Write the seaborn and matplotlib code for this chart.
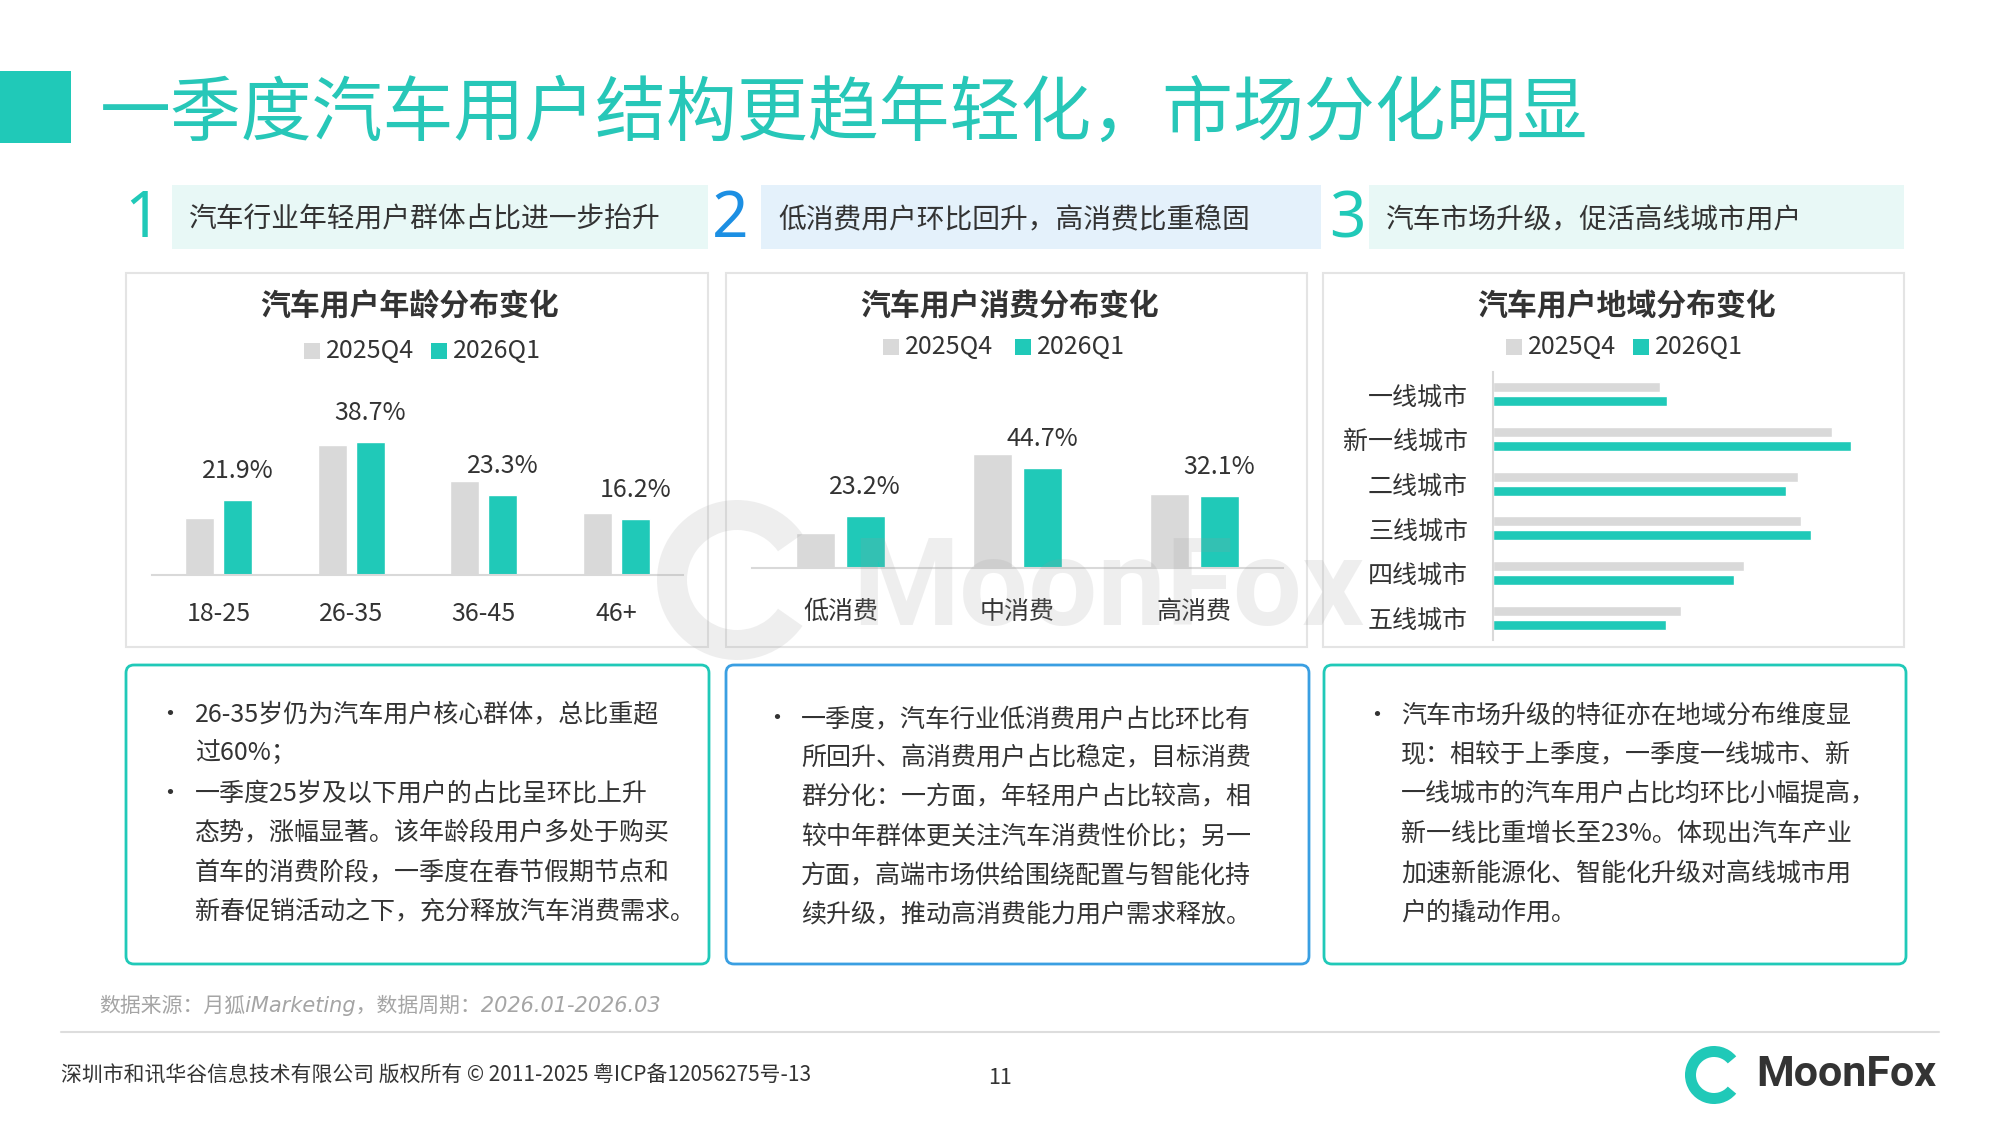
import numpy as np
import pandas as pd
import matplotlib
matplotlib.use('Agg')
import matplotlib.pyplot as plt
import seaborn as sns
from matplotlib.patches import Rectangle, FancyBboxPatch, Wedge

# ---------------- data ----------------
series = ['2025Q4', '2026Q1']

age_cats = ['18-25', '26-35', '36-45', '46+']
age_q4 = [16.6, 37.8, 27.2, 18.0]
age_q1 = [21.9, 38.7, 23.3, 16.2]

spend_cats = ['低消费', '中消费', '高消费']
spend_q4 = [15.7, 51.0, 33.2]
spend_q1 = [23.2, 44.7, 32.1]

city_cats = ['一线城市', '新一线城市', '二线城市', '三线城市', '四线城市', '五线城市']
city_q4 = [10.7, 21.8, 19.6, 19.8, 16.1, 12.1]
city_q1 = [11.2, 23.0, 18.8, 20.4, 15.5, 11.1]

page_title = '一季度汽车用户结构更趋年轻化，市场分化明显'
section_nums = ['1', '2', '3']
section_heads = ['汽车行业年轻用户群体占比进一步抬升',
                 '低消费用户环比回升，高消费比重稳固',
                 '汽车市场升级，促活高线城市用户']
chart_titles = ['汽车用户年龄分布变化', '汽车用户消费分布变化', '汽车用户地域分布变化']

notes1 = ['• 26-35岁仍为汽车用户核心群体，总比重超',
          '过60%；',
          '• 一季度25岁及以下用户的占比呈环比上升',
          '态势，涨幅显著。该年龄段用户多处于购买',
          '首车的消费阶段，一季度在春节假期节点和',
          '新春促销活动之下，充分释放汽车消费需求。']
notes2 = ['• 一季度，汽车行业低消费用户占比环比有',
          '所回升、高消费用户占比稳定，目标消费',
          '群分化：一方面，年轻用户占比较高，相',
          '较中年群体更关注汽车消费性价比；另一',
          '方面，高端市场供给围绕配置与智能化持',
          '续升级，推动高消费能力用户需求释放。']
notes3 = ['• 汽车市场升级的特征亦在地域分布维度显',
          '现：相较于上季度，一季度一线城市、新',
          '一线城市的汽车用户占比均环比小幅提高，',
          '新一线比重增长至23%。体现出汽车产业',
          '加速新能源化、智能化升级对高线城市用',
          '户的撬动作用。']

source_text = '数据来源：月狐iMarketing，数据周期：2026.01-2026.03'
footer_text = '深圳市和讯华谷信息技术有限公司 版权所有 © 2011-2025 粤ICP备12056275号-13'
page_num = '11'
brand = 'MoonFox'

# ---------------- style ----------------
sns.set_theme(style='white')
plt.rcParams['font.family'] = ['Noto Sans CJK SC', 'DejaVu Sans']
plt.rcParams['axes.unicode_minus'] = False

GRAY = '#D9D9D9'
TEAL = '#20C9B8'
TITLE_TEAL = '#27C7B8'
BLUE = '#1C8FE3'
DARK = '#333333'

W, H = 2000, 1125
fig = plt.figure(figsize=(20, 11.25), dpi=100)
fig.patch.set_facecolor('white')


def fa(x0, y0, x1, y1):
    return [x0 / W, 1 - y1 / H, (x1 - x0) / W, (y1 - y0) / H]


bg = fig.add_axes([0, 0, 1, 1], zorder=0)
bg.set_xlim(0, W)
bg.set_ylim(H, 0)
bg.axis('off')

# title
bg.add_patch(Rectangle((0, 71), 71, 72, color=TEAL, lw=0))
bg.text(100, 114, page_title, fontsize=51, color=TITLE_TEAL, va='center', ha='left')

# section headers
head_boxes = [(172, 708, '#E8F8F6'), (761, 1321, '#E4F1FB'), (1369, 1904, '#E8F8F6')]
num_x = [143, 730, 1347]
num_col = [TEAL, BLUE, TEAL]
for i in range(3):
    x0, x1, fc = head_boxes[i]
    bg.add_patch(Rectangle((x0, 185), x1 - x0, 64, color=fc, lw=0))
    bg.text(num_x[i], 220, section_nums[i], fontsize=46, color=num_col[i],
            ha='center', va='center', family=['Noto Sans', 'DejaVu Sans'], fontweight='normal')
    bg.text(x0 + 17, 220, section_heads[i], fontsize=20, color=DARK,
            ha='left', va='center', fontweight='medium')

# chart panels
panels = [(126, 708), (726, 1307), (1323, 1904)]
title_cx = [410, 1010, 1627]
for i, (x0, x1) in enumerate(panels):
    bg.add_patch(Rectangle((x0, 273), x1 - x0, 374, fill=False, ec='#E4E4E4', lw=1.5))
    bg.text(title_cx[i], 306, chart_titles[i], fontsize=21.5, color=DARK,
            ha='center', va='center', fontweight='bold')

# legends
legend_pos = [(304, 431, 351), (883, 1015, 347), (1506, 1633, 347)]
for xg, xt, yl in legend_pos:
    for xs, col, name in [(xg, GRAY, series[0]), (xt, TEAL, series[1])]:
        bg.add_patch(Rectangle((xs, yl - 8), 16, 16, color=col, lw=0))
        bg.text(xs + 22, yl, name, fontsize=18, color=DARK, ha='left', va='center')

# note boxes
note_boxes = [(126, 709, TEAL, 170, 195, 715, notes1),
              (726, 1309, '#3A9FE2', 777, 801, 719, notes2),
              (1324, 1906, TEAL, 1377, 1401, 716, notes3)]
for x0, x1, ec, bx, tx, y0, lines in note_boxes:
    bg.add_patch(FancyBboxPatch((x0, 665), x1 - x0, 299,
                                boxstyle='round,pad=0,rounding_size=8',
                                fill=False, ec=ec, lw=2))
    for k, line in enumerate(lines):
        y = y0 + k * 39.3
        if line.startswith('• '):
            bg.text(bx, y, '•', fontsize=18, color=DARK, ha='center', va='center')
            line = line[2:]
        bg.text(tx, y, line, fontsize=18, color=DARK, ha='left', va='center')

# footer
bg.text(99, 1005, source_text, fontsize=15, color='#A5A5A5', ha='left', va='center',
        family=['DejaVu Sans', 'Noto Sans CJK SC'], style='italic')
bg.plot([61, 1939], [1032, 1032], color='#DDDDDD', lw=1.5)
bg.text(61, 1076, footer_text, fontsize=15, color=DARK, ha='left', va='center')
bg.text(1000, 1078, page_num, fontsize=15.5, color=DARK, ha='center', va='center')
bg.add_patch(Wedge((1714, 1075), 29, 40, 320, width=11, color=TEAL, lw=0))
bg.text(1756, 1075, brand, fontsize=31, color=DARK, ha='left', va='center',
        family=['Roboto', 'DejaVu Sans'], fontweight='bold')


def style_axes(ax):
    ax.set_facecolor('none')
    ax.set_xlabel('')
    ax.set_ylabel('')
    for s in ax.spines.values():
        s.set_visible(False)


# ---------------- chart 1: age ----------------
df1 = pd.DataFrame({'cat': age_cats * 2,
                    'series': [series[0]] * len(age_cats) + [series[1]] * len(age_cats),
                    'val': age_q4 + age_q1})
ax1 = fig.add_axes(fa(152, 380, 683, 575), zorder=1)
sns.barplot(data=df1, x='cat', y='val', hue='series', hue_order=series,
            palette=[GRAY, TEAL], width=0.572, gap=0.238, saturation=1,
            legend=False, ax=ax1, errorbar=None)
ax1.set_xlim(-0.5, len(age_cats) - 0.5)
ax1.set_ylim(0, 56.7)
style_axes(ax1)
ax1.spines['bottom'].set_visible(True)
ax1.spines['bottom'].set_color(GRAY)
ax1.spines['bottom'].set_linewidth(1.5)
ax1.set_yticks([])
ax1.tick_params(axis='x', length=0, pad=19, labelsize=18, labelcolor=DARK)
for p, v in zip(ax1.containers[1], age_q1):
    ax1.annotate(f'{v:.1f}%', (p.get_x() + p.get_width() / 2, p.get_height()),
                 xytext=(0, 21), textcoords='offset points', ha='center', va='center',
                 fontsize=18, color=DARK)

# ---------------- chart 2: spending ----------------
df2 = pd.DataFrame({'cat': spend_cats * 2,
                    'series': [series[0]] * len(spend_cats) + [series[1]] * len(spend_cats),
                    'val': spend_q4 + spend_q1})
ax2 = fig.add_axes(fa(752, 380, 1283, 568), zorder=1)
sns.barplot(data=df2, x='cat', y='val', hue='series', hue_order=series,
            palette=[GRAY, TEAL], width=0.56, gap=0.214, saturation=1,
            legend=False, ax=ax2, errorbar=None)
ax2.set_xlim(-0.5, len(spend_cats) - 0.5)
ax2.set_ylim(0, 84.3)
style_axes(ax2)
ax2.spines['bottom'].set_visible(True)
ax2.spines['bottom'].set_color(GRAY)
ax2.spines['bottom'].set_linewidth(1.5)
ax2.set_yticks([])
ax2.tick_params(axis='x', length=0, pad=22, labelsize=18, labelcolor=DARK)
for p, v in zip(ax2.containers[1], spend_q1):
    ax2.annotate(f'{v:.1f}%', (p.get_x() + p.get_width() / 2, p.get_height()),
                 xytext=(0, 21), textcoords='offset points', ha='center', va='center',
                 fontsize=18, color=DARK)

# ---------------- chart 3: region ----------------
df3 = pd.DataFrame({'cat': city_cats * 2,
                    'series': [series[0]] * len(city_cats) + [series[1]] * len(city_cats),
                    'val': city_q4 + city_q1})
ax3 = fig.add_axes(fa(1493, 372, 1888, 640), zorder=1)
sns.barplot(data=df3, y='cat', x='val', hue='series', hue_order=series, orient='h',
            palette=[GRAY, TEAL], width=0.622, gap=0.286, saturation=1,
            legend=False, ax=ax3, errorbar=None)
ax3.set_xlim(0, 25.37)
ax3.set_ylim(len(city_cats) - 0.5, -0.5)
style_axes(ax3)
ax3.spines['left'].set_visible(True)
ax3.spines['left'].set_color(GRAY)
ax3.spines['left'].set_linewidth(1.5)
ax3.set_xticks([])
ax3.tick_params(axis='y', length=0, pad=18, labelsize=18, labelcolor=DARK)
for lab in ax3.get_yticklabels():
    lab.set_y(lab.get_position()[1])
    lab.set_va('center_baseline')

# ---------------- watermark overlay ----------------
ov = fig.add_axes([0, 0, 1, 1], zorder=5)
ov.set_xlim(0, W)
ov.set_ylim(H, 0)
ov.axis('off')
ov.patch.set_alpha(0)
ov.add_patch(Wedge((737, 580), 80, 35, 325, width=30, color='#9A9A9A', alpha=0.16, lw=0))
ov.text(852, 592, brand, fontsize=88, color='#9A9A9A', alpha=0.16, ha='left', va='center',
        family=['Roboto', 'DejaVu Sans'], fontweight='bold')

fig.savefig('out.png', dpi=100, facecolor='white')
